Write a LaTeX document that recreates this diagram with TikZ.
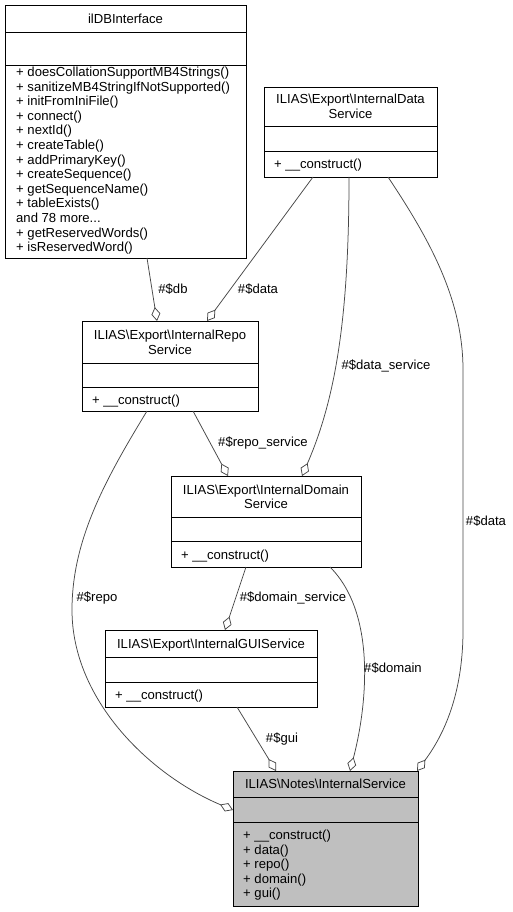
\documentclass[tikz,border=0pt]{standalone}
\usepackage{fontspec}
\setmainfont{Liberation Sans}
\usetikzlibrary{arrows.meta}
\newcommand\dxfont{\fontsize{13.1}{14.6}\selectfont}
\newcommand\dxmore{and 78 more...}
\begin{document}
\begin{tikzpicture}[x=1pt,y=-1pt,
  cls/.style={draw=black, line width=0.9pt, inner sep=0pt, outer sep=0pt, anchor=north west},
  sep/.style={draw=black, line width=0.9pt},
  ttl/.style={font=\dxfont, anchor=base, inner sep=0pt},
  meth/.style={font=\dxfont, anchor=base west, inner sep=0pt},
  lbl/.style={font=\dxfont, inner sep=0pt},
  rel/.style={draw=black!72, line width=0.75pt, -{Diamond[length=14pt,width=9pt,fill=white]}}]
\fill[white] (0,0) rectangle (513,912);
\useasboundingbox (0,0) rectangle (513,912);

% ---- classes ----
\node[cls, minimum width=241pt, minimum height=253pt] (db) at (5,5) {};
\draw[sep] ([yshift=-27pt]db.north west) -- ([yshift=-27pt]db.north east);
\draw[sep] ([yshift=-60pt]db.north west) -- ([yshift=-60pt]db.north east);
\node[ttl] (dbt) at (125.5,23.2) {ilDBInterface};
\foreach \t [count=\i from 0] in {+ doesCollationSupportMB4Strings(),+ sanitizeMB4StringIfNotSupported(),+ initFromIniFile(),+ connect(),+ nextId(),+ createTable(),+ addPrimaryKey(),+ createSequence(),+ getSequenceName(),+ tableExists(),\dxmore,+ getReservedWords(),+ isReservedWord()}
  \node[meth] (dbm\i) at (16,76.5+14.6*\i) {\t};

\node[cls, minimum width=173pt, minimum height=90pt] (data) at (264,87) {};
\draw[sep] ([yshift=-39pt]data.north west) -- ([yshift=-39pt]data.north east);
\draw[sep] ([yshift=-64pt]data.north west) -- ([yshift=-64pt]data.north east);
\node[ttl] (datat1) at (350.5,104) {ILIAS\textbackslash Export\textbackslash InternalData};
\node[ttl] (datat2) at (350.5,118.6) {Service};
\node[meth] (datam) at (274,169) {+ \_\_construct()};

\node[cls, minimum width=176pt, minimum height=90pt] (repo) at (82,321) {};
\draw[sep] ([yshift=-42pt]repo.north west) -- ([yshift=-42pt]repo.north east);
\draw[sep] ([yshift=-66pt]repo.north west) -- ([yshift=-66pt]repo.north east);
\node[ttl] (repot1) at (170,339.4) {ILIAS\textbackslash Export\textbackslash InternalRepo};
\node[ttl] (repot2) at (170,354) {Service};
\node[meth] (repom) at (92,404) {+ \_\_construct()};

\node[cls, minimum width=190pt, minimum height=91pt] (domain) at (171,476) {};
\draw[sep] ([yshift=-41pt]domain.north west) -- ([yshift=-41pt]domain.north east);
\draw[sep] ([yshift=-65pt]domain.north west) -- ([yshift=-65pt]domain.north east);
\node[ttl] (domaint1) at (266,494) {ILIAS\textbackslash Export\textbackslash InternalDomain};
\node[ttl] (domaint2) at (266,508.6) {Service};
\node[meth] (domainm) at (181,559) {+ \_\_construct()};

\node[cls, minimum width=212pt, minimum height=77pt] (gui) at (105,630) {};
\draw[sep] ([yshift=-27pt]gui.north west) -- ([yshift=-27pt]gui.north east);
\draw[sep] ([yshift=-52pt]gui.north west) -- ([yshift=-52pt]gui.north east);
\node[ttl] (guit) at (211,648.2) {ILIAS\textbackslash Export\textbackslash InternalGUIService};
\node[meth] (guim) at (115,699) {+ \_\_construct()};

\node[cls, fill=black!25, minimum width=185pt, minimum height=135pt] (notes) at (233,771) {};
\draw[sep] ([yshift=-26pt]notes.north west) -- ([yshift=-26pt]notes.north east);
\draw[sep] ([yshift=-51pt]notes.north west) -- ([yshift=-51pt]notes.north east);
\node[ttl] (notest) at (325.5,788.7) {ILIAS\textbackslash Notes\textbackslash InternalService};
\foreach \t [count=\i from 0] in {+ \_\_construct(),+ data(),+ repo(),+ domain(),+ gui()}
  \node[meth] (notesm\i) at (243,839.5+14.6*\i) {\t};

% ---- relations ----
\draw[rel] ([xshift=142pt]db.south west) -- ([xshift=75pt]repo.north west);
\node[lbl] (l1) at (173,289) {\#\$db};

\draw[rel] ([xshift=49pt]data.south west) -- ([xshift=125pt]repo.north west);
\node[lbl] (l2) at (258,289) {\#\$data};

\draw[rel] ([xshift=85pt]data.south west) .. controls (349,320) and (335,400) .. ([xshift=131pt]domain.north west);
\node[lbl] (l3) at (386,366) {\#\$data\_service};

\draw[rel] ([xshift=111pt]repo.south west) -- ([xshift=57pt]domain.north west);
\node[lbl] (l4) at (263,443) {\#\$repo\_service};

\draw[rel] ([xshift=65pt]repo.south west) .. controls (105,480) and (72,540) .. (72,610)
  .. controls (72,700) and (150,775) .. ([yshift=-39pt]notes.north west);
\node[lbl] (l5) at (97,598) {\#\$repo};

\draw[rel] ([xshift=75pt]domain.south west) -- ([xshift=120pt]gui.north west);
\node[lbl] (l6) at (293,598) {\#\$domain\_service};

\draw[rel] ([xshift=159pt]domain.south west) .. controls (378,615) and (366,710) .. ([xshift=117pt]notes.north west);
\node[lbl] (l7) at (393,668) {\#\$domain};

\draw[rel] ([xshift=132pt]gui.south west) -- ([xshift=43pt]notes.north west);
\node[lbl] (l8) at (282,739) {\#\$gui};

\draw[rel] ([xshift=124pt]data.south west) .. controls (430,240) and (463,300) .. (463,370)
  -- (463,630) .. controls (463,700) and (440,740) .. ([xshift=-1pt]notes.north east);
\node[lbl] (l9) at (486,521) {\#\$data};
\end{tikzpicture}
\end{document}
